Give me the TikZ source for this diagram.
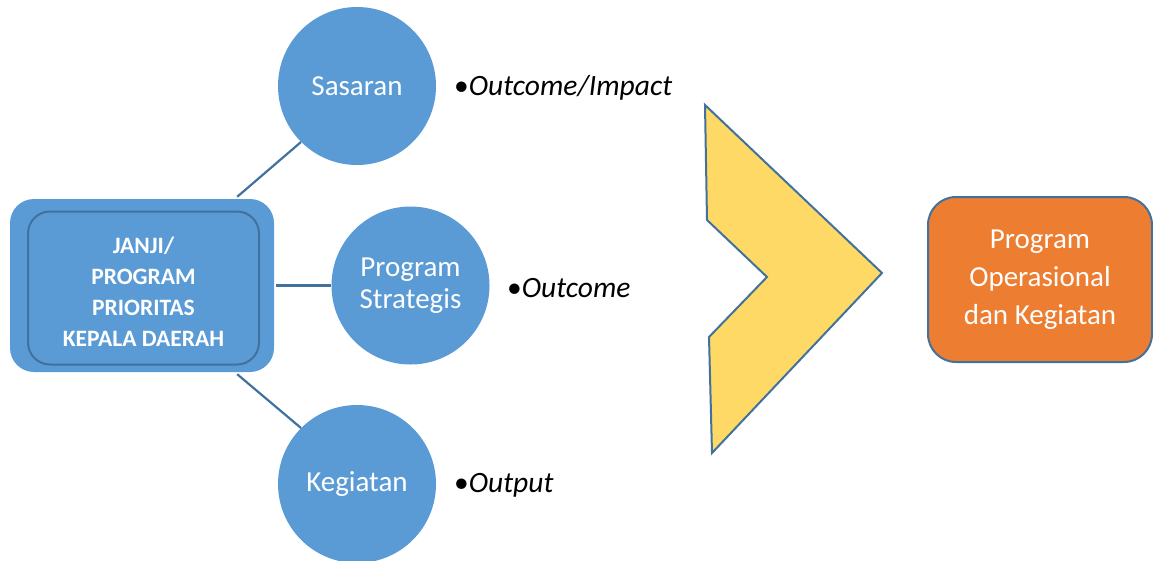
\documentclass[tikz,border=0pt]{standalone}
\usepackage{fontspec}
\setmainfont{Carlito}
\definecolor{cblue}{HTML}{5B9BD5}
\definecolor{cdark}{HTML}{41719C}
\definecolor{cyel}{HTML}{FFD966}
\definecolor{corange}{HTML}{ED7D31}
\begin{document}
\begin{tikzpicture}[x=1pt,y=-1pt,
  circ/.style={circle,fill=cblue,minimum size=158pt,inner sep=0pt,text=white,align=center,font=\fontsize{29}{32}\selectfont},
  lbl/.style={anchor=west,inner sep=0pt,font=\fontsize{29.5}{32}\selectfont\itshape},
  conn/.style={draw=cdark,line width=2.2pt}]
\useasboundingbox (0,0) rectangle (1153,560);
% left box
\node[draw=none,fill=cblue,rounded corners=24pt,minimum width=264pt,minimum height=173pt,inner sep=0pt] (outer) at (142,285.5) {};
\node[draw=cdark,line width=2pt,rounded corners=22pt,minimum width=231pt,minimum height=153pt,inner sep=0pt] (inner) at (143.5,288) {};
\node[text=white,align=center,inner sep=0pt,font=\fontsize{23.5}{31}\selectfont\bfseries] (innertext) at (143.5,291.5) {JANJI/\\PROGRAM\\PRIORITAS\\KEPALA DAERAH};
% circles
\node[circ] (sas) at (357,86) {Sasaran};
\node[circ] (ps) at (410.5,285.5) {Program\\Strategis};
\node[circ] (keg) at (357,484) {Kegiatan};
% connectors
\draw[conn] (outer.north east) ++(-37,-2) coordinate (a1) -- (sas.225);
\draw[conn] (outer.east) ++(2,0) coordinate (a2) -- (ps.west);
\draw[conn] (outer.south east) ++(-37,2) coordinate (a3) -- (keg.135);
% labels
\node[lbl] (l1) at (454,88) {\normalfont\textbullet\itshape Outcome/Impact};
\node[lbl] (l2) at (507,288) {\normalfont\textbullet\itshape Outcome};
\node[lbl] (l3) at (454,485) {\normalfont\textbullet\itshape Output};
% chevron
\draw[fill=cyel,draw=cdark,line width=2pt,line join=miter] (705,105) -- (882,273) -- (712,453) -- (709,337) -- (767,277) -- (707,220) -- cycle;
% orange box
\node[draw=cdark,line width=2pt,fill=corange,rounded corners=28pt,minimum width=224pt,minimum height=165pt,inner sep=0pt,text=white,align=center,font=\fontsize{29}{38}\selectfont] (op) at (1040,279.5) {Program\\Operasional\\dan Kegiatan};
\end{tikzpicture}
\end{document}
